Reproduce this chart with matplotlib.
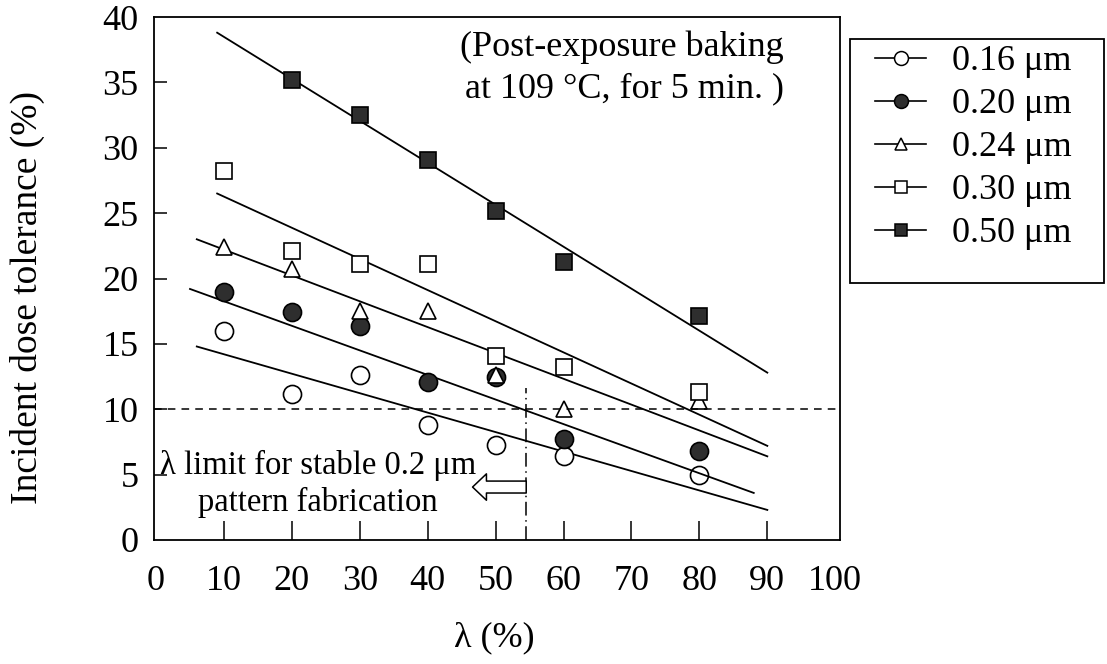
import numpy as np
import matplotlib.pyplot as plt
from matplotlib.lines import Line2D
from matplotlib.patches import Rectangle

plt.rcParams['font.family'] = ['Liberation Serif', 'DejaVu Serif']

W, H = 1107, 664

# lambda (%) at which each linewidth was measured
lam = [10, 20, 30, 40, 50, 60, 80]
lam_050 = [20, 30, 40, 50, 60, 80]

# incident dose tolerance (%)
tol_016 = [16.0, 11.2, 12.6, 8.8, 7.3, 6.4, 5.0]
tol_020 = [19.0, 17.4, 16.4, 12.1, 12.5, 7.7, 6.8]
tol_024 = [22.4, 20.7, 17.5, 17.5, 12.6, 10.0, 10.6]
tol_030 = [28.2, 22.1, 21.1, 21.1, 14.1, 13.2, 11.3]
tol_050 = [35.2, 32.5, 29.1, 25.2, 21.3, 17.1]

# straight-line fits, given as end points
fit_x_016, fit_y_016 = [6, 90], [14.8, 2.3]
fit_x_020, fit_y_020 = [5, 88], [19.2, 3.6]
fit_x_024, fit_y_024 = [6, 90], [23.0, 6.4]
fit_x_030, fit_y_030 = [9, 90], [26.5, 7.2]
fit_x_050, fit_y_050 = [9, 90], [38.8, 12.8]

labels = ['0.16 \u03bcm', '0.20 \u03bcm', '0.24 \u03bcm', '0.30 \u03bcm', '0.50 \u03bcm']
x_ticks = [0, 10, 20, 30, 40, 50, 60, 70, 80, 90, 100]
y_ticks = [0, 5, 10, 15, 20, 25, 30, 35, 40]

tol_limit = 10      # % dose tolerance criterion
lam_limit = 54.5    # lambda where the 0.20 um fit crosses it

dark = '#2e2e2e'
series = [
    (lam, tol_016, fit_x_016, fit_y_016, dict(marker='o', mfc='white', ms=13)),
    (lam, tol_020, fit_x_020, fit_y_020, dict(marker='o', mfc=dark, ms=13)),
    (lam, tol_024, fit_x_024, fit_y_024, dict(marker='^', mfc='white', ms=12)),
    (lam, tol_030, fit_x_030, fit_y_030, dict(marker='s', mfc='white', ms=12)),
    (lam_050, tol_050, fit_x_050, fit_y_050, dict(marker='s', mfc=dark, ms=12)),
]

fig = plt.figure(figsize=(W / 100, H / 100), dpi=100)
ax = fig.add_axes([154 / W, 1 - 540 / H, (840 - 154) / W, (540 - 17) / H])

handles = []
for xs, ys, fx, fy, style in series:
    ax.plot(fx, fy, color='black', lw=1.3)
    ax.plot(xs, ys, ls='none', mec='black', mew=1.2, **style)
    leg_style = dict(style, ms=style['ms'] - 3)
    handles.append(Line2D([], [], color='black', lw=1.2, mec='black', mew=1.1, **leg_style))

# 10 % tolerance criterion and lambda limit
ax.axhline(tol_limit, color='black', lw=1.1, ls=(0, (5, 4)))
ax.plot([lam_limit, lam_limit], [0, 11.6], color='black', lw=1.1, ls=(0, (9, 3, 1, 3)))
ax.annotate('', xy=(46.6, 4.05), xytext=(lam_limit, 4.05),
            arrowprops=dict(arrowstyle='simple,head_length=0.5,head_width=0.95,tail_width=0.43',
                            fc='white', ec='black', lw=1.1, mutation_scale=20,
                            shrinkA=0, shrinkB=0))
ax.text(23.8, 4.3, '\u03bb limit for stable 0.2 \u03bcm\npattern fabrication',
        ha='center', va='center', fontsize=23.5, linespacing=1.27)
ax.text(92.4, 36.1, '(Post-exposure baking\nat 109 \u00b0C, for 5 min. )',
        ha='right', va='center', fontsize=26, linespacing=1.3)

ax.set_xlim(-0.3, 100.7)
ax.set_ylim(0, 40)
ax.set_xticks(x_ticks)
ax.set_yticks(y_ticks)
ax.tick_params(axis='x', direction='in', length=14, width=1.1, pad=18, labelsize=26)
ax.tick_params(axis='y', direction='in', length=9, width=1.1, pad=11, labelsize=26)
# no tick marks on the frame corners, only labels
for t in ax.xaxis.get_major_ticks()[::len(x_ticks) - 1] + ax.yaxis.get_major_ticks()[::len(y_ticks) - 1]:
    t.tick1line.set_visible(False)
for sp in ax.spines.values():
    sp.set_linewidth(1.3)

fig.text(494 / W, 1 - 638 / H, '\u03bb (%)', ha='center', va='center', fontsize=26)
fig.text(27 / W, 1 - 297 / H, 'Incident dose tolerance (%)', ha='center', va='center',
         rotation=90, fontsize=27)

leg = fig.legend(handles, labels, loc='upper left', bbox_to_anchor=(875 / W, 1 - 45 / H),
                 fontsize=26, frameon=False, handlelength=1.42, handletextpad=0.72,
                 labelspacing=0.27, borderpad=0, borderaxespad=0)
fig.add_artist(Rectangle((850 / W, 1 - 283 / H), (1104 - 850) / W, (283 - 39) / H,
                         transform=fig.transFigure, fill=False, ec='black', lw=1.3))

fig.savefig('out.png', dpi=100)
